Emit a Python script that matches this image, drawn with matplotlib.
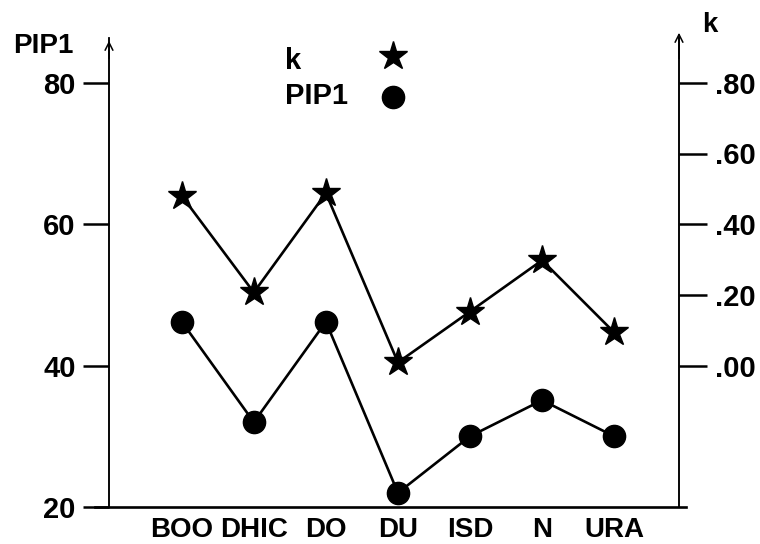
import matplotlib.pyplot as plt
from matplotlib.lines import Line2D

plt.rcParams['font.family'] = ['Liberation Sans', 'DejaVu Sans']
plt.rcParams['font.weight'] = 'bold'
plt.rcParams['font.size'] = 21

### data ###
categories = ["BOO", "DHIC", "DO", "DU", "ISD", "N", "URA"]
pip1 = [46.2, 32.0, 46.2, 22.0, 30.0, 35.1, 30.0]
k_vals = [0.48, 0.207, 0.488, 0.009, 0.153, 0.298, 0.094]
pip1_ticks = [20, 40, 60, 80]
k_ticks = [0.0, 0.2, 0.4, 0.6, 0.8]
k_tick_labels = [".00", ".20", ".40", ".60", ".80"]
legend_labels = ["k", "PIP1"]

fig = plt.figure(figsize=(7.6, 5.44), dpi=100)
ax = fig.add_axes([109 / 760, 1 - 507 / 544, 570 / 760, 469 / 544])
ax2 = ax.twinx()

x = list(range(len(categories)))

## PIP1 on the left axis
ax.plot(x, pip1, color="black", lw=1.9, marker="o", ms=16, zorder=3)
ax.set_ylim(20, 20 + 469 / 7.07)
ax.set_xlim(-1.01, 6.9)
ax.set_yticks(pip1_ticks)
ax.set_xticks(x)
ax.set_xticklabels(categories, fontsize=20)
ax.tick_params(axis="y", direction="out", length=19, width=1.8, pad=5)
ax.tick_params(axis="x", length=0, pad=7)

## k on the right axis, .00 lines up with PIP1 40
ax2.plot(x, k_vals, color="black", lw=1.9, marker="*", ms=21, zorder=3)
ax2.set_ylim((20 - 40) * 0.02, (20 + 469 / 7.07 - 40) * 0.02)
ax2.set_yticks(k_ticks)
ax2.set_yticklabels(k_tick_labels)
ax2.tick_params(axis="y", direction="out", length=20, width=1.8, pad=6)

for a in (ax, ax2):
    a.spines["top"].set_visible(False)
    a.spines["bottom"].set_visible(False)
    a.spines["left"].set_linewidth(1.1)
    a.spines["right"].set_linewidth(1.1)

# bottom baseline, a bit wider than the box
ax.plot([-14 / 570, 1 + 7 / 570], [0, 0], transform=ax.transAxes,
        color="black", lw=1.9, clip_on=False)

# arrow heads on the two vertical axes
ax.annotate("", xy=(0, 1), xytext=(0, 0.95), xycoords="axes fraction",
            arrowprops=dict(arrowstyle="->", lw=1.1, color="black", mutation_scale=14))
ax.annotate("", xy=(1, 1 + 8 / 469), xytext=(1, 0.95), xycoords="axes fraction",
            arrowprops=dict(arrowstyle="->", lw=1.1, color="black", mutation_scale=14))

# axis titles
fig.text(13 / 760, 1 - 46 / 544, "PIP1", ha="left", va="center", fontsize=20)
fig.text(702 / 760, 1 - 25 / 544, "k", ha="left", va="center", fontsize=20)

# legend: label text on the left, marker on the right
fig.text(285 / 760, 1 - 61 / 544, legend_labels[0], ha="left", va="center")
fig.text(285 / 760, 1 - 96 / 544, legend_labels[1], ha="left", va="center")
handles = [Line2D([], [], color="black", ls="none", marker="*", ms=21),
           Line2D([], [], color="black", ls="none", marker="o", ms=16)]
fig.legend(handles, ["", ""], loc="center",
           bbox_to_anchor=(393 / 760, 1 - 78.5 / 544), frameon=False,
           handlelength=1.0, handletextpad=0, labelspacing=0.45,
           borderpad=0, borderaxespad=0)

fig.savefig("out.png", dpi=100)
